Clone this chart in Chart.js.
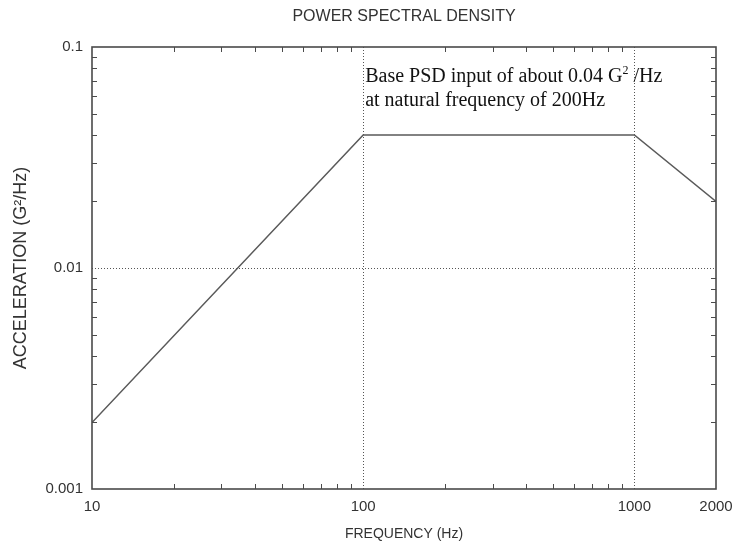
<!DOCTYPE html>
<html>
<head>
<meta charset="utf-8">
<script src="https://cdn.jsdelivr.net/npm/chart.js@4/dist/chart.umd.min.js"></script>
<style>
  html, body { margin: 0; padding: 0; background: #fff; }
  #wrap { width: 735px; height: 547px; position: relative; }
</style>
</head>
<body>
<div id="wrap"><canvas id="c" width="735" height="547"></canvas></div>
<script>
// ---- data ----
const frequencies = [10, 100, 1000, 2000];          // Hz
const psdValues   = [0.002, 0.04, 0.04, 0.02];      // G^2/Hz
const xTickValues = [10, 100, 1000, 2000];
const yTickValues = [0.001, 0.01, 0.1];
const xMinorTicks = [20, 30, 40, 50, 60, 70, 80, 90, 200, 300, 400, 500, 600, 700, 800, 900];
const yMinorTicks = [0.002, 0.003, 0.004, 0.005, 0.006, 0.007, 0.008, 0.009,
                     0.02, 0.03, 0.04, 0.05, 0.06, 0.07, 0.08, 0.09];
const xGridValues = [100, 1000];
const yGridValues = [0.01];
const chartTitle  = 'POWER SPECTRAL DENSITY';
const xTitle      = 'FREQUENCY (Hz)';
const yTitle      = 'ACCELERATION (G\u00B2/Hz)';
const noteLine1a  = 'Base PSD input of about 0.04 G';
const noteSup     = '2';
const noteLine1b  = ' /Hz';
const noteLine2   = 'at natural frequency of 200Hz';

const axisColor = '#4a4a4a';
const textColor = '#333';
const sans = '"Liberation Sans", Arial, sans-serif';
const serif = '"Liberation Serif", "Times New Roman", serif';

const frame = {
  id: 'frame',
  afterDraw(chart) {
    const {ctx, chartArea: a, scales: {x, y}} = chart;
    ctx.save();
    // title centred over the plot area
    ctx.fillStyle = textColor;
    ctx.font = '16px ' + sans;
    ctx.textAlign = 'center';
    ctx.textBaseline = 'middle';
    ctx.fillText(chartTitle, (a.left + a.right) / 2, a.top - 30);
    // minor ticks, inward, all four sides
    ctx.strokeStyle = axisColor;
    ctx.lineWidth = 1;
    const L = 5;
    ctx.beginPath();
    xMinorTicks.forEach(v => {
      const px = Math.round(x.getPixelForValue(v)) + 0.5;
      ctx.moveTo(px, a.bottom); ctx.lineTo(px, a.bottom - L);
      ctx.moveTo(px, a.top); ctx.lineTo(px, a.top + L);
    });
    yMinorTicks.forEach(v => {
      const py = Math.round(y.getPixelForValue(v)) + 0.5;
      ctx.moveTo(a.left, py); ctx.lineTo(a.left + L, py);
      ctx.moveTo(a.right, py); ctx.lineTo(a.right - L, py);
    });
    ctx.stroke();
    // frame
    ctx.lineWidth = 1.6;
    ctx.strokeStyle = axisColor;
    ctx.strokeRect(a.left, a.top, a.right - a.left, a.bottom - a.top);
    // annotation
    ctx.fillStyle = '#111';
    ctx.textBaseline = 'middle';
    ctx.textAlign = 'left';
    const fs = 20;
    ctx.font = fs + 'px ' + serif;
    const tx = x.getPixelForValue(100) + 2;
    const ty1 = a.top + 30;
    const ty2 = a.top + 54;
    ctx.fillText(noteLine1a, tx, ty1);
    const w = ctx.measureText(noteLine1a).width;
    ctx.font = Math.round(fs * 0.62) + 'px ' + serif;
    ctx.fillText(noteSup, tx + w, ty1 - 6);
    const ws = ctx.measureText(noteSup).width;
    ctx.font = fs + 'px ' + serif;
    ctx.fillText(noteLine1b, tx + w + ws, ty1);
    ctx.fillText(noteLine2, tx, ty2);
    ctx.restore();
  }
};

new Chart(document.getElementById('c'), {
  type: 'line',
  data: {
    datasets: [{
      data: frequencies.map((f, i) => ({x: f, y: psdValues[i]})),
      borderColor: '#5a5a5a',
      borderWidth: 1.5,
      pointRadius: 0,
      fill: false,
      tension: 0
    }]
  },
  options: {
    responsive: false,
    animation: false,
    devicePixelRatio: 1,
    layout: { padding: { left: 0, right: 19, top: 47, bottom: 0 } },
    plugins: {
      legend: { display: false },
      tooltip: { enabled: false },
      title: { display: false }
    },
    scales: {
      x: {
        type: 'logarithmic',
        min: 10, max: 2000,
        afterBuildTicks: s => { s.ticks = xTickValues.map(v => ({value: v})); },
        afterFit: s => { s.height = 58; s.paddingLeft = 0; s.paddingRight = 0; },
        ticks: {
          autoSkip: false, maxRotation: 0, padding: 9,
          color: textColor,
          font: { family: sans, size: 15 },
          callback: v => String(v)
        },
        grid: {
          drawTicks: false,
          color: c => xGridValues.includes(c.tick && c.tick.value) ? '#555' : 'rgba(0,0,0,0)',
          lineWidth: 1
        },
        border: { display: false, dash: [1, 2] },
        title: {
          display: true, text: xTitle, color: textColor,
          font: { family: sans, size: 14 },
          padding: { top: 0, bottom: 4 }
        }
      },
      y: {
        type: 'logarithmic',
        min: 0.001, max: 0.1,
        afterBuildTicks: s => { s.ticks = yTickValues.map(v => ({value: v})); },
        afterFit: s => { s.width = 92; s.paddingTop = 0; s.paddingBottom = 0; },
        ticks: {
          autoSkip: false, padding: 9,
          color: textColor,
          font: { family: sans, size: 15 },
          callback: v => String(v)
        },
        grid: {
          drawTicks: false,
          color: c => yGridValues.includes(c.tick && c.tick.value) ? '#555' : 'rgba(0,0,0,0)',
          lineWidth: 1
        },
        border: { display: false, dash: [1, 2] },
        title: {
          display: true, text: yTitle, color: textColor,
          font: { family: sans, size: 18 },
          padding: { top: 10, bottom: 0 }
        }
      }
    }
  },
  plugins: [frame]
});
</script>
</body>
</html>
